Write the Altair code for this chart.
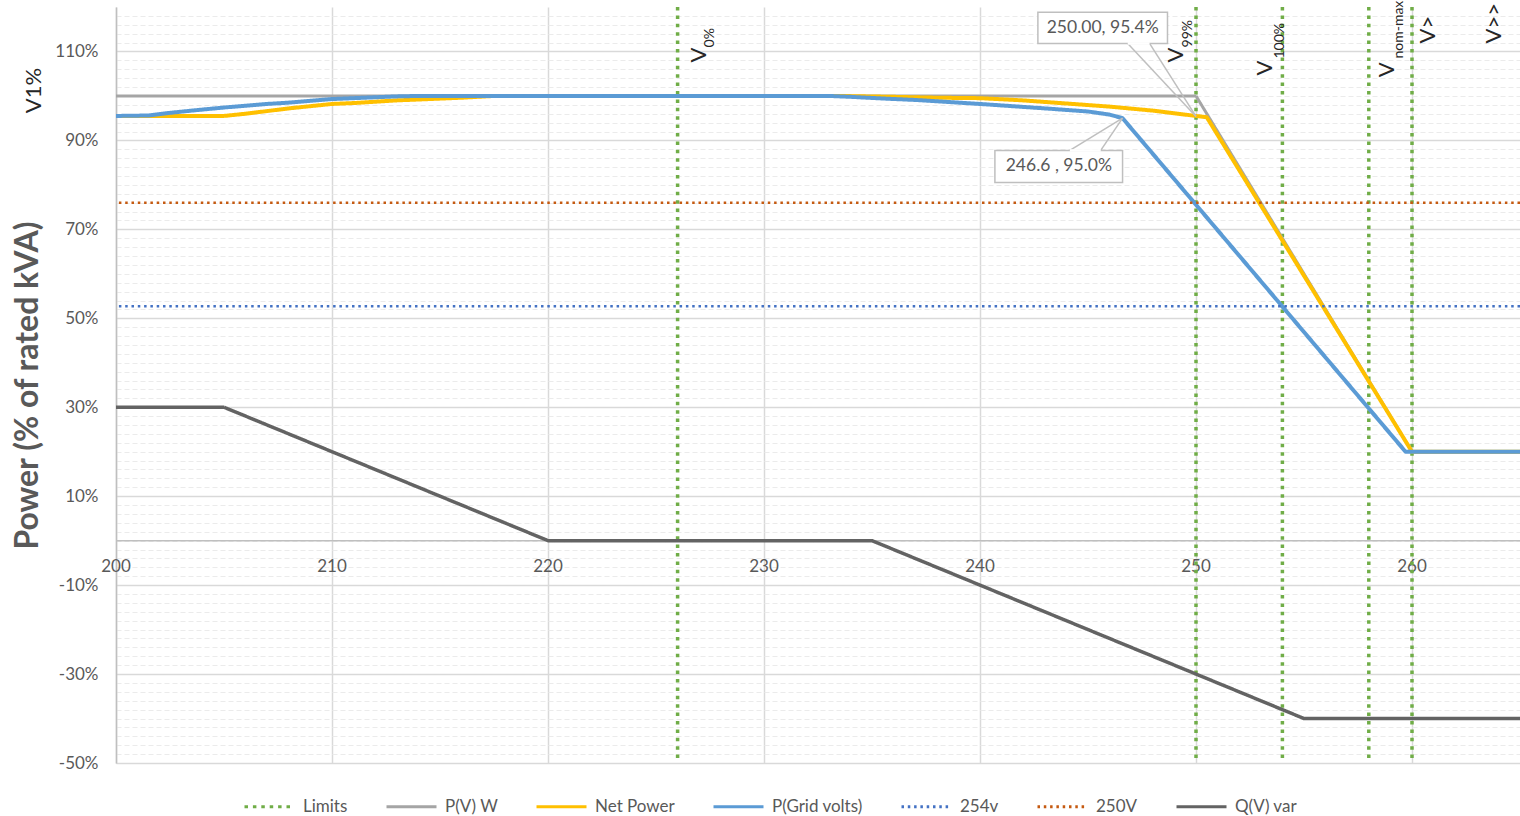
import altair as alt
import pandas as pd

# ---------------- data ----------------
series_names = ["Limits", "P(V) W", "Net Power", "P(Grid volts)", "254v", "250V", "Q(V) var"]
series_colors = ["#70AD47", "#A5A5A5", "#FFC000", "#5B9BD5", "#4472C4", "#C55A11", "#636363"]
series_dash = [[3.5, 4.9], [1, 0], [1, 0], [1, 0], [2.5, 3.8], [2.5, 3.8], [1, 0]]

limit_volts = [226, 250, 254, 258, 260]

pv_volts = [200, 250, 260, 265]
pv_power = [100, 100, 20, 20]

net_volts = [200, 203, 205, 206, 207, 208, 209, 210, 211, 212, 213, 214, 215, 216, 217.5,
             233.5, 236, 238, 240, 242, 244, 246, 248, 249, 250, 250.5, 260, 265]
net_power = [95.5, 95.5, 95.5, 96.0, 96.6, 97.2, 97.7, 98.2, 98.4, 98.7, 99.0, 99.2, 99.4, 99.6, 100,
             100, 99.8, 99.6, 99.5, 99.0, 98.3, 97.6, 96.7, 96.1, 95.5, 95.2, 20, 20]

grid_volts = [200, 201.5, 202.5, 203.5, 205, 206, 207, 208, 209, 210, 211, 212, 213, 214,
              233, 234, 235.6, 237, 238, 240, 241.5, 243.3, 245, 246, 246.6, 259.7, 265]
grid_power = [95.5, 95.6, 96.2, 96.7, 97.4, 97.8, 98.2, 98.5, 98.9, 99.3, 99.5, 99.7, 99.9, 100,
              100, 99.8, 99.4, 99.1, 98.8, 98.2, 97.7, 97.1, 96.5, 95.8, 95.0, 20, 20]

qv_volts = [200, 205, 220, 235, 255, 265]
qv_power = [30, 30, 0, 0, -40, -40]

level_254v = 52.7
level_250v = 76.0

x_ticks = [200, 210, 220, 230, 240, 250, 260]
y_grid_values = list(range(-50, 119, 2))

# limit-line labels (rotated)
main_label_text = ["V", "V", "V", "V", "V>", "V>>"]
main_label_v = [226.97, 249.08, 253.19, 258.85, 260.72, 263.81]
main_label_p = [107.5, 107.5, 104.6, 104.2, 111.8, 111.8]
sub_label_text = ["0%", "99%", "100%", "nom-max"]
sub_label_v = [227.48, 249.61, 253.88, 259.42]
sub_label_p = [110.9, 110.9, 108.4, 108.4]

side_label_text = ["V1%"]
side_label_v = [196.2]
side_label_p = [101.2]

# data-point callouts
callout_text = ["250.00, 95.4%", "246.6 , 95.0%"]
callout_x1 = [242.68, 240.69]
callout_x2 = [248.68, 246.60]
callout_y1 = [111.8, 80.56]
callout_y2 = [118.8, 87.75]
callout_tx = [245.68, 243.65]
callout_ty = [115.3, 84.15]
wedge_base_a = [246.84, 244.16]
wedge_base_b = [247.85, 245.59]
wedge_base_y = [111.8, 87.75]
wedge_tip_v = [250.0, 246.6]
wedge_tip_p = [95.4, 95.0]

TEXT = "#595959"
FONT = "Lato"

# ---------------- tables ----------------
df_xlab = pd.DataFrame({"v": x_ticks, "p": [0] * len(x_ticks), "label": [str(t) for t in x_ticks]})
df_zero = pd.DataFrame({"p": [0]})
df_limits = pd.DataFrame({"v": limit_volts, "series": ["Limits"] * len(limit_volts)})
df_pv = pd.DataFrame({"v": pv_volts, "p": pv_power, "series": "P(V) W"})
df_net = pd.DataFrame({"v": net_volts, "p": net_power, "series": "Net Power"})
df_grid = pd.DataFrame({"v": grid_volts, "p": grid_power, "series": "P(Grid volts)"})
df_qv = pd.DataFrame({"v": qv_volts, "p": qv_power, "series": "Q(V) var"})
df_h = pd.DataFrame({"p": [level_254v, level_250v], "series": ["254v", "250V"]})
df_main = pd.DataFrame({"v": main_label_v, "p": main_label_p, "t": main_label_text})
df_sub = pd.DataFrame({"v": sub_label_v, "p": sub_label_p, "t": sub_label_text})
df_side = pd.DataFrame({"v": side_label_v, "p": side_label_p, "t": side_label_text})
df_box = pd.DataFrame({"v": callout_x1, "x2": callout_x2, "p": callout_y1, "y2": callout_y2})
df_wedge = pd.DataFrame({
    "v": wedge_base_a + wedge_base_b,
    "p": wedge_base_y + wedge_base_y,
    "x2": wedge_tip_v + wedge_tip_v,
    "y2": wedge_tip_p + wedge_tip_p,
})
df_mask = pd.DataFrame({"v": wedge_base_a, "x2": wedge_base_b, "p": wedge_base_y})
df_btext = pd.DataFrame({"v": callout_tx, "p": callout_ty, "t": callout_text})

# ---------------- scales / axes ----------------
xscale = alt.Scale(domain=[200, 265], nice=False, zero=False)
yscale = alt.Scale(domain=[-50, 120], nice=False, zero=False)

major_test = "(datum.value + 50) % 20 == 0"
x_axis = alt.Axis(values=x_ticks, grid=True, gridColor="#D9D9D9", gridWidth=1.5,
                  labels=False, ticks=False, domain=False, title="")
y_axis = alt.Axis(
    values=y_grid_values, grid=True,
    gridColor={"condition": {"test": major_test, "value": "#D9D9D9"}, "value": "#EBEBEB"},
    gridDash={"condition": {"test": major_test, "value": [1, 0]}, "value": [5, 3]},
    gridWidth={"condition": {"test": major_test, "value": 1.5}, "value": 1},
    labelExpr=f"{major_test} ? datum.value + '%' : ''",
    labelOverlap=False, labelBound=False,
    ticks=False, tickSize=0, domain=True, domainColor="#BFBFBF", domainWidth=1.5,
    labelFontSize=17, labelColor=TEXT, labelFont=FONT, labelPadding=18,
    title="Power (% of rated kVA)", titleFontSize=32, titleFontWeight="bold",
    titleColor=TEXT, titleFont=FONT, titlePadding=10,
)

legend = alt.Legend(
    title=None, orient="none", direction="horizontal", columns=7,
    legendX=127, legendY=773, symbolType="stroke", symbolSize=2500,
    symbolStrokeWidth=3, labelFontSize=17, labelColor=TEXT, labelFont=FONT,
    labelOffset=7, columnPadding=32, symbolLimit=0,
)
color_enc = alt.Color("series:N", scale=alt.Scale(domain=series_names, range=series_colors), legend=legend)
dash_enc = alt.StrokeDash("series:N", scale=alt.Scale(domain=series_names, range=series_dash), legend=legend)


def X(f="v"):
    return alt.X(f"{f}:Q", scale=xscale, axis=x_axis)


def Y(f="p"):
    return alt.Y(f"{f}:Q", scale=yscale, axis=y_axis)


# ---------------- layers ----------------
base = alt.Chart(df_xlab).mark_text(dy=26, fontSize=17, color=TEXT, font=FONT).encode(
    x=X(), y=Y(), text="label:N")

zero_line = alt.Chart(df_zero).mark_rule(color="#BFBFBF", strokeWidth=1.5).encode(y=Y())

limits = alt.Chart(df_limits).mark_rule(strokeWidth=3.5).encode(x=X(), color=color_enc, strokeDash=dash_enc)


def line(df, width):
    return alt.Chart(df).mark_line(strokeWidth=width, strokeJoin="round").encode(
        x=X(), y=Y(), color=color_enc, strokeDash=dash_enc)


pv_line = line(df_pv, 3)
net_line = line(df_net, 4)
grid_line = line(df_grid, 4)
qv_line = line(df_qv, 3.5)

hlines = alt.Chart(df_h).mark_rule(strokeWidth=2.5).encode(y=Y(), color=color_enc, strokeDash=dash_enc)

main_labels = alt.Chart(df_main).mark_text(angle=270, align="left", baseline="middle",
                                           fontSize=22, color="#262626", font=FONT).encode(
    x=X(), y=Y(), text="t:N")
sub_labels = alt.Chart(df_sub).mark_text(angle=270, align="left", baseline="middle",
                                         fontSize=14, color="#262626", font=FONT).encode(
    x=X(), y=Y(), text="t:N")
side_labels = alt.Chart(df_side).mark_text(angle=270, align="center", baseline="middle",
                                           fontSize=22, color="#262626", font=FONT).encode(
    x=X(), y=Y(), text="t:N")

boxes = alt.Chart(df_box).mark_rect(fill="white", stroke="#BFBFBF", strokeWidth=1.5).encode(
    x=X(), x2="x2:Q", y=Y(), y2="y2:Q")
mask = alt.Chart(df_mask).mark_rule(color="white", strokeWidth=2.5).encode(
    x=X(), x2="x2:Q", y=Y())
wedges = alt.Chart(df_wedge).mark_rule(color="#BFBFBF", strokeWidth=1.5).encode(
    x=X(), x2="x2:Q", y=Y(), y2="y2:Q")
box_text = alt.Chart(df_btext).mark_text(fontSize=17.5, color=TEXT, font=FONT).encode(
    x=X(), y=Y(), text="t:N")

chart = alt.layer(
    base, zero_line, limits, pv_line, net_line, grid_line, hlines, qv_line,
    main_labels, sub_labels, side_labels, wedges, boxes, mask, box_text,
).properties(
    width=1404, height=756,
    padding={"left": 116, "top": 7, "right": 0, "bottom": 53},
    autosize=alt.AutoSizeParams(type="none"),
).configure(font=FONT, background="white").configure_view(strokeOpacity=0)

chart.save("out.html", embed_options={"renderer": "svg", "actions": False})
